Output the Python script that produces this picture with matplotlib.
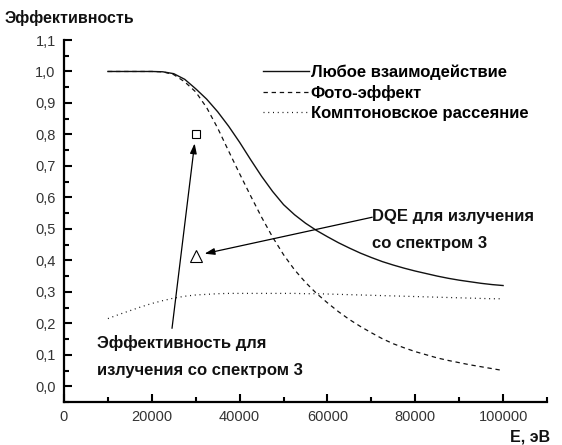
import matplotlib
matplotlib.use("Agg")
import matplotlib.pyplot as plt
from matplotlib.ticker import MultipleLocator, FuncFormatter

plt.rcParams['font.family'] = ['Liberation Sans', 'DejaVu Sans']

# Photon energy grid, eV
energy = [10000, 12500, 15000, 17500, 20000, 22500, 25000, 27500, 30000, 32500,
          35000, 37500, 40000, 42500, 45000, 47500, 50000, 52500, 55000, 57500,
          60000, 62500, 65000, 67500, 70000, 72500, 75000, 77500, 80000, 82500,
          85000, 87500, 90000, 92500, 95000, 97500, 100000]

# Detection efficiency for each interaction channel
eff_any = [1.0, 1.0, 1.0, 1.0, 1.0, 0.999, 0.993, 0.975, 0.945, 0.912,
           0.872, 0.826, 0.775, 0.72, 0.667, 0.619, 0.577, 0.545, 0.518, 0.495,
           0.475, 0.456, 0.439, 0.423, 0.409, 0.396, 0.385, 0.375, 0.366, 0.358,
           0.350, 0.343, 0.337, 0.332, 0.327, 0.323, 0.320]
eff_photo = [1.0, 1.0, 1.0, 1.0, 1.0, 0.999, 0.99, 0.967, 0.935, 0.885,
             0.82, 0.747, 0.675, 0.605, 0.537, 0.474, 0.418, 0.37, 0.33, 0.295,
             0.265, 0.237, 0.212, 0.19, 0.17, 0.151, 0.135, 0.122, 0.11, 0.1,
             0.09, 0.082, 0.075, 0.068, 0.062, 0.056, 0.05]
eff_compton = [0.215, 0.228, 0.24, 0.252, 0.263, 0.272, 0.28, 0.286, 0.29, 0.292,
               0.294, 0.295, 0.295, 0.295, 0.295, 0.295, 0.295, 0.295, 0.294, 0.294,
               0.293, 0.292, 0.291, 0.290, 0.289, 0.288, 0.287, 0.286, 0.285, 0.284,
               0.283, 0.282, 0.281, 0.280, 0.279, 0.278, 0.278]

series_labels = ['Любое взаимодействие', 'Фото-эффект', 'Комптоновское рассеяние']

# Values for the spectrum-3 radiation
spec3_energy = 30000
spec3_eff = 0.80
spec3_dqe = 0.415

x_ticks = [0, 20000, 40000, 60000, 80000, 100000]

fig = plt.figure(figsize=(5.62, 4.45), dpi=100)
ax = fig.add_axes([64 / 562, 1 - 402 / 445, (547 - 64) / 562, (402 - 40) / 445])

ax.plot(energy, eff_any, color='#111111', lw=1.0, ls='-', label=series_labels[0])
ax.plot(energy, eff_photo, color='#111111', lw=0.9, ls=(0, (3.5, 3)), label=series_labels[1])
ax.plot(energy, eff_compton, color='#111111', lw=0.9, ls=(0, (0.8, 3)), label=series_labels[2])

ax.plot([spec3_energy], [spec3_eff], marker='s', ms=6, mfc='white', mec='black', mew=0.8, ls='none')
ax.plot([spec3_energy], [spec3_dqe], marker='^', ms=8, mfc='white', mec='black', mew=0.8, ls='none')

arrow = dict(arrowstyle='-|>,head_length=0.6,head_width=0.2', color='black', lw=0.9,
             shrinkA=0, shrinkB=6.5)
ax.annotate('', xy=(spec3_energy, spec3_eff), xytext=(24600, 0.184), arrowprops=arrow)
ax.annotate('', xy=(spec3_energy, spec3_dqe), xytext=(70200, 0.537), arrowprops=arrow)

txt = dict(fontsize=12, fontweight='bold', color='#111111', linespacing=2.05, va='center')
ax.text(7500, 0.095, 'Эффективность для\nизлучения со спектром 3', **txt)
ax.text(70200, 0.496, 'DQE для излучения\nсо спектром 3', **txt)

ax.set_xlim(0, 110000)
ax.set_ylim(-0.05, 1.1)
ax.set_xticks(x_ticks)
ax.xaxis.set_minor_locator(MultipleLocator(10000))
ax.yaxis.set_major_locator(MultipleLocator(0.1))
ax.yaxis.set_minor_locator(MultipleLocator(0.05))
ax.yaxis.set_major_formatter(FuncFormatter(lambda v, p: f'{v:.1f}'.replace('.', ',').replace('-0,0', '0,0')))

for side in ('top', 'right'):
    ax.spines[side].set_visible(False)
for side in ('left', 'bottom'):
    ax.spines[side].set_linewidth(1.6)
ax.tick_params(which='major', direction='in', length=6, width=1.5, labelsize=10.5,
               labelcolor='#333333', pad=6)
ax.tick_params(which='minor', direction='in', length=3.5, width=1.5)

ax.legend(loc='upper left', bbox_to_anchor=(0.38, 0.973), frameon=False,
          handlelength=2.8, handletextpad=0.1, labelspacing=0.3,
          prop=dict(size=12, weight='bold'))

fig.text(5 / 562, 1 - 18 / 445, 'Эффективность', fontsize=11.5, fontweight='bold',
         va='center', ha='left', color='#111111')
fig.text(550 / 562, 1 - 437 / 445, 'E, эВ', fontsize=11.5, fontweight='bold',
         va='center', ha='right', color='#111111')

fig.savefig('out.png', dpi=100)
